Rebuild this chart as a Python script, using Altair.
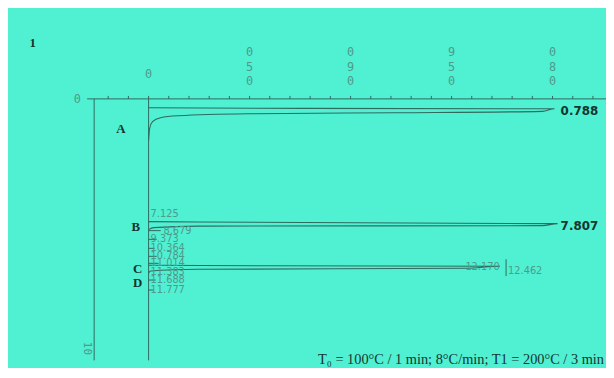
import altair as alt
import pandas as pd

BG = "#50F0D3"
LINE = "#2f6a5e"
LIGHT = "#4f9a89"
DARK = "#16352e"

# ---- data (x = detector response units, t = vertical position along run axis) ----
peak_A_u = [0, 4.02, 3.9, 2.45, 0.98, 0.294, 0.118, 0.039, 0.01, 0]
peak_A_t = [0.357, 0.397, 0.50, 0.556, 0.595, 0.675, 0.754, 0.913, 1.19, 1.667]
peak_B_u = [0, 4.05, 3.9, 0.49, 0.05, 0]
peak_B_t = [4.92, 5.0, 5.08, 5.1, 5.16, 5.24]
peak_C_u = [0, 3.48, 3.14, 0.49, 0.02, 0]
peak_C_t = [6.67, 6.71, 6.79, 6.83, 6.9, 6.98]

main_labels = ["0.788", "7.807"]
main_u = [4.08, 4.08]
main_t = [0.47, 5.08]

small_texts = ["7.125", "8.679", "9.373", "10.364", "10.784", "11.014",
               "11.383", "11.688", "11.777", "12.170", "12.462"]
small_u = [0.02, 0.147, 0.02, 0.02, 0.02, 0.02, 0.02, 0.02, 0.02, 3.137, 3.56]
small_t = [4.6, 5.28, 5.63, 5.99, 6.31, 6.59, 6.94, 7.26, 7.66, 6.75, 6.9]

small_peak_t = [5.28, 5.63, 5.99, 6.31, 6.59, 7.26, 7.66]
small_peak_h = [0.12, 0.08, 0.06, 0.08, 0.10, 0.07, 0.05]

letters = ["A", "B", "C", "D"]
letter_u = [-0.275, -0.127, -0.108, -0.108]
letter_t = [1.19, 5.12, 6.83, 7.38]

zero_label = "0"
top_tick_u = [1, 2, 3, 4]
top_tick_labels = ["0\n5\n0", "0\n9\n0", "9\n5\n0", "0\n8\n0"]
minor_ticks = [-0.4, -0.2, 0, 0.2, 0.4, 0.6, 0.8, 1, 1.2, 1.4, 1.6, 1.8, 2, 2.2, 2.4, 2.6, 2.8,
               3, 3.2, 3.4, 3.6, 3.8, 4, 4.2, 4.4]

caption = "T\u2080 = 100\u00b0C / 1 min; 8\u00b0C/min; T1 = 200\u00b0C / 3 min"

# ---- tables ----
rows = []
for name, us, ts in [("A", peak_A_u, peak_A_t), ("B", peak_B_u, peak_B_t), ("C", peak_C_u, peak_C_t)]:
    for i, (u, t) in enumerate(zip(us, ts)):
        rows.append({"peak": name, "i": i, "u": u, "t": t})
peaks = pd.DataFrame(rows)

xs = alt.Scale(domain=[-0.5392, 4.5294], nice=False, zero=False)
ys = alt.Scale(domain=[0, 10.714], reverse=True, nice=False, zero=False)

segs = pd.DataFrame({
    "x": [-0.608, -0.539, 0, 3.54],
    "x2": [4.5294, -0.539, 0, 3.54],
    "y": [0, 0, 0, 6.43],
    "y2": [0, 10.48, 10.48, 7.1],
})
axes = alt.Chart(segs).mark_rule(color=LINE, strokeWidth=1).encode(
    x=alt.X("x:Q", scale=xs, axis=None), x2="x2",
    y=alt.Y("y:Q", scale=ys, axis=None), y2="y2")

ticks_df = pd.DataFrame({"x": minor_ticks})
ticks = alt.Chart(ticks_df).mark_rule(color=LINE, strokeWidth=1).encode(
    x=alt.X("x:Q", scale=xs, axis=None),
    y=alt.value(-3), y2=alt.value(0))

peak_lines = alt.Chart(peaks).mark_line(color=LINE, strokeWidth=1.1, interpolate="monotone").encode(
    x=alt.X("u:Q", scale=xs, axis=None),
    y=alt.Y("t:Q", scale=ys, axis=None),
    detail="peak:N", order="i:Q")

sp = pd.DataFrame({"t": small_peak_t, "h": small_peak_h, "z": [0] * len(small_peak_t)})
small_peaks = alt.Chart(sp).mark_rule(color=LINE, strokeWidth=1).encode(
    x=alt.X("z:Q", scale=xs, axis=None), x2="h",
    y=alt.Y("t:Q", scale=ys, axis=None))

main_txt = alt.Chart(pd.DataFrame({"s": main_labels, "u": main_u, "t": main_t})).mark_text(
    align="left", baseline="middle", font="DejaVu Sans", fontSize=12, fontWeight="bold", color=DARK
).encode(x=alt.X("u:Q", scale=xs, axis=None), y=alt.Y("t:Q", scale=ys, axis=None), text="s:N")

small_txt = alt.Chart(pd.DataFrame({"s": small_texts, "u": small_u, "t": small_t})).mark_text(
    align="left", baseline="middle", font="DejaVu Sans Condensed", fontSize=11, color=LIGHT
).encode(x=alt.X("u:Q", scale=xs, axis=None), y=alt.Y("t:Q", scale=ys, axis=None), text="s:N")

letter_txt = alt.Chart(pd.DataFrame({"s": letters, "u": letter_u, "t": letter_t})).mark_text(
    align="center", baseline="middle", font="Liberation Serif", fontSize=13, fontWeight="bold", color=DARK
).encode(x=alt.X("u:Q", scale=xs, axis=None), y=alt.Y("t:Q", scale=ys, axis=None), text="s:N")

top_lbl = alt.Chart(pd.DataFrame({"s": top_tick_labels, "u": top_tick_u})).mark_text(
    align="center", baseline="top", font="DejaVu Sans Mono", fontSize=12, color=LIGHT,
    lineBreak="\n", lineHeight=14.5
).encode(x=alt.X("u:Q", scale=xs, axis=None), y=alt.value(-52), text="s:N")

zero_lbl = alt.Chart(pd.DataFrame({"s": [zero_label], "u": [0]})).mark_text(
    align="center", baseline="middle", font="DejaVu Sans Mono", fontSize=12, color=LIGHT
).encode(x=alt.X("u:Q", scale=xs, axis=None), y=alt.value(-25), text="s:N")

y0_lbl = alt.Chart(pd.DataFrame({"s": ["0"]})).mark_text(
    align="center", baseline="middle", font="DejaVu Sans Mono", fontSize=12, color=LIGHT
).encode(x=alt.value(-17), y=alt.value(0), text="s:N")

y10_lbl = alt.Chart(pd.DataFrame({"s": ["10"]})).mark_text(
    align="center", baseline="middle", font="DejaVu Sans Mono", fontSize=11, color=LIGHT, angle=90
).encode(x=alt.value(-7), y=alt.value(252), text="s:N")

fig_lbl = alt.Chart(pd.DataFrame({"s": ["1"]})).mark_text(
    align="center", baseline="middle", font="Liberation Serif", fontSize=13, fontWeight="bold", color=DARK
).encode(x=alt.value(-62), y=alt.value(-56), text="s:N")

cap = alt.Chart(pd.DataFrame({"s": [caption]})).mark_text(
    align="right", baseline="middle", font="Liberation Serif", fontSize=14.5, color=DARK
).encode(x=alt.value(515), y=alt.value(264), text="s:N")

chart = alt.layer(axes, ticks, peak_lines, small_peaks, main_txt, small_txt, letter_txt,
                  top_lbl, zero_lbl, y0_lbl, y10_lbl, fig_lbl, cap).properties(
    width=517, height=270,
    padding={"left": 87, "top": 90, "right": 0, "bottom": 0},
    autosize=alt.AutoSizeParams(type="none"),
    background=BG,
).configure_view(stroke=None)

chart.save("out.html", embed_options={"renderer": "svg", "actions": False})
